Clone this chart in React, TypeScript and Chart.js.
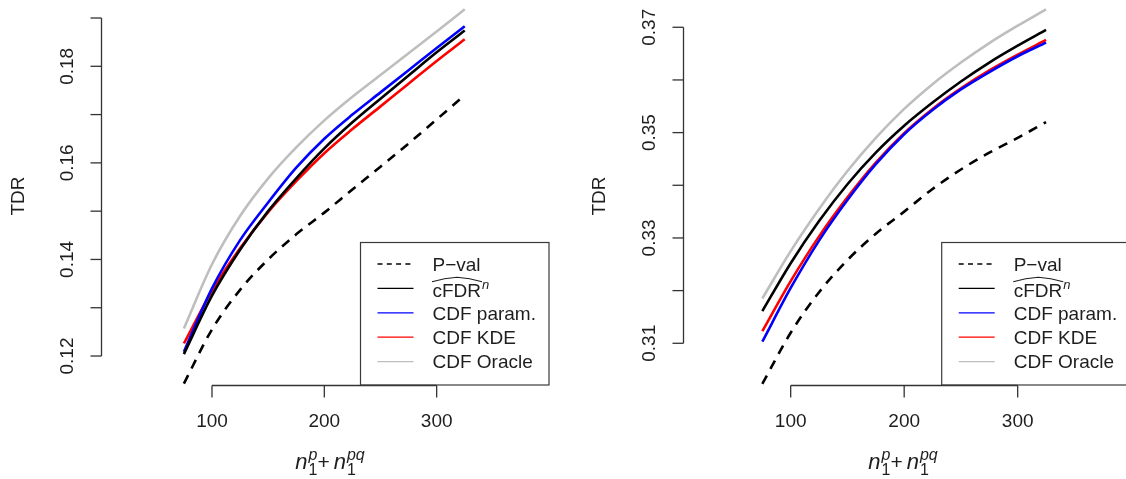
import React, { useEffect, useRef } from "react";
import { Chart, registerables } from "chart.js";
Chart.register(...registerables);

// ---------- data ----------
const xValues = [75, 100, 125, 150, 175, 200, 225, 250, 275, 300, 325];

const leftPval = [0.1143, 0.1255, 0.1337, 0.14, 0.1452, 0.1497, 0.1545, 0.1592, 0.164, 0.169, 0.174];
const leftCfdr = [0.1204, 0.1325, 0.142, 0.15, 0.1568, 0.163, 0.1684, 0.1733, 0.1781, 0.1829, 0.1874];
const leftParam = [0.1209, 0.134, 0.144, 0.1518, 0.159, 0.165, 0.17, 0.1746, 0.1792, 0.1838, 0.1883];
const leftKde = [0.1226, 0.1335, 0.1423, 0.1498, 0.1562, 0.162, 0.167, 0.1717, 0.1764, 0.1811, 0.1856];
const leftOracle = [0.1257, 0.139, 0.149, 0.1568, 0.1632, 0.1688, 0.1737, 0.1782, 0.1827, 0.1872, 0.1918];

const rightPval = [0.3023, 0.312, 0.3197, 0.3258, 0.3308, 0.335, 0.3393, 0.343, 0.3462, 0.349, 0.352];
const rightCfdr = [0.3161, 0.3252, 0.3332, 0.3402, 0.3462, 0.3513, 0.3557, 0.3597, 0.3633, 0.3665, 0.3695];
const rightParam = [0.3103, 0.3205, 0.3295, 0.3372, 0.344, 0.3497, 0.3543, 0.3582, 0.3615, 0.3645, 0.3671];
const rightKde = [0.3123, 0.3218, 0.3303, 0.3377, 0.3443, 0.3499, 0.3545, 0.3584, 0.3618, 0.3648, 0.3676];
const rightOracle = [0.3185, 0.3275, 0.3355, 0.3427, 0.349, 0.3545, 0.3592, 0.3633, 0.367, 0.3703, 0.3734];

const leftYTicks = [0.12, 0.13, 0.14, 0.15, 0.16, 0.17, 0.18, 0.19];
const leftYLabels = ["0.12", "", "0.14", "", "0.16", "", "0.18", ""];
const rightYTicks = [0.31, 0.32, 0.33, 0.34, 0.35, 0.36, 0.37];
const rightYLabels = ["0.31", "", "0.33", "", "0.35", "", "0.37"];
const xTicks = [100, 200, 300];
const xTickLabels = ["100", "200", "300"];

const legendLabels = ["P\u2212val", "cFDR", "CDF param.", "CDF KDE", "CDF Oracle"];
const yTitle = "TDR";

// ---------- styles ----------
const FONT = '"Liberation Sans", Arial, Helvetica, sans-serif';
const TEXT = "#1e1e1e";
const AXIS = "#333333";
const COLORS = { pval: "#000000", cfdr: "#000000", param: "#0000ff", kde: "#ff0000", oracle: "#bebebe" };
const legendColors = [COLORS.pval, COLORS.cfdr, COLORS.param, COLORS.kde, COLORS.oracle];

type Panel = {
  left: number;
  padL: number;
  padR: number;
  xMin: number;
  xMax: number;
  yMin: number;
  yMax: number;
  yTicks: number[];
  yLabels: string[];
  legendLeft: number;
  titleX: number;
  tdrX: number;
  series: number[][];
};

const panels: Panel[] = [
  {
    left: 0, padL: 101, padR: 33, xMin: 1.2, xMax: 400, yMin: 0.114, yMax: 0.19228,
    yTicks: leftYTicks, yLabels: leftYLabels, legendLeft: 360.5, titleX: 330, tdrX: 19,
    series: [leftPval, leftCfdr, leftParam, leftKde, leftOracle],
  },
  {
    left: 582, padL: 100.7, padR: 34.3, xMin: 4.85, xMax: 398.7, yMin: 0.30208, yMax: 0.37385,
    yTicks: rightYTicks, yLabels: rightYLabels, legendLeft: 359.7, titleX: 321, tdrX: 18,
    series: [rightPval, rightCfdr, rightParam, rightKde, rightOracle],
  },
];

function pts(ys: number[]) {
  return xValues.map((x, i) => ({ x, y: ys[i] }));
}

function drawXTitle(ctx: CanvasRenderingContext2D, cx: number, base: number) {
  const big = `italic 22px ${FONT}`;
  const plus = `21px ${FONT}`;
  const smallI = `italic 16px ${FONT}`;
  const small = `16px ${FONT}`;
  ctx.font = big;
  const wn = ctx.measureText("n").width;
  ctx.font = plus;
  const wp = ctx.measureText("+").width;
  ctx.font = smallI;
  const wsp1 = ctx.measureText("p").width;
  const wsp2 = ctx.measureText("pq").width;
  ctx.font = small;
  const w1 = ctx.measureText("1").width;
  const s1 = Math.max(wsp1, w1);
  const s2 = Math.max(wsp2, w1);
  const total = wn + 1 + s1 + 0 + wp + 4 + wn + 1 + s2;
  let x = cx - total / 2;
  ctx.textAlign = "left";
  ctx.textBaseline = "alphabetic";
  ctx.fillStyle = TEXT;
  ctx.font = big;
  ctx.fillText("n", x, base);
  x += wn + 1;
  ctx.font = smallI;
  ctx.fillText("p", x, base - 9);
  ctx.font = small;
  ctx.fillText("1", x, base + 6);
  x += s1;
  ctx.font = plus;
  ctx.fillText("+", x, base);
  x += wp + 4;
  ctx.font = big;
  ctx.fillText("n", x, base);
  x += wn + 1;
  ctx.font = smallI;
  ctx.fillText("pq", x, base - 9);
  ctx.font = small;
  ctx.fillText("1", x, base + 6);
}

function makeAxesPlugin(p: Panel) {
  return {
    id: "rAxes",
    afterDraw(chart: any) {
      const ctx: CanvasRenderingContext2D = chart.ctx;
      const area = chart.chartArea;
      const xs = chart.scales.x;
      const ys = chart.scales.y;
      ctx.save();
      ctx.strokeStyle = AXIS;
      ctx.lineWidth = 1.3;
      ctx.lineCap = "butt";
      ctx.setLineDash([]);

      // y axis
      const ax = Math.round(area.left) + 0.5;
      ctx.beginPath();
      ctx.moveTo(ax, ys.getPixelForValue(p.yTicks[0]));
      ctx.lineTo(ax, ys.getPixelForValue(p.yTicks[p.yTicks.length - 1]));
      ctx.stroke();
      p.yTicks.forEach((t, i) => {
        const y = ys.getPixelForValue(t);
        ctx.beginPath();
        ctx.moveTo(ax - 11, y);
        ctx.lineTo(ax, y);
        ctx.stroke();
        const lab = p.yLabels[i];
        if (lab) {
          ctx.save();
          ctx.translate(ax - 34, y);
          ctx.rotate(-Math.PI / 2);
          ctx.font = `19px ${FONT}`;
          ctx.fillStyle = TEXT;
          ctx.textAlign = "center";
          ctx.textBaseline = "middle";
          ctx.fillText(lab, 0, 0);
          ctx.restore();
        }
      });

      // x axis
      const ay = Math.round(area.bottom) + 0.5;
      ctx.beginPath();
      ctx.moveTo(xs.getPixelForValue(xTicks[0]), ay);
      ctx.lineTo(xs.getPixelForValue(xTicks[xTicks.length - 1]), ay);
      ctx.stroke();
      xTicks.forEach((t, i) => {
        const x = xs.getPixelForValue(t);
        ctx.beginPath();
        ctx.moveTo(x, ay);
        ctx.lineTo(x, ay + 12);
        ctx.stroke();
        ctx.font = `19px ${FONT}`;
        ctx.fillStyle = TEXT;
        ctx.textAlign = "center";
        ctx.textBaseline = "middle";
        ctx.fillText(xTickLabels[i], x, 422);
      });

      // y title
      ctx.save();
      ctx.translate(p.tdrX, (area.top + area.bottom) / 2);
      ctx.rotate(-Math.PI / 2);
      ctx.font = `19px ${FONT}`;
      ctx.fillStyle = TEXT;
      ctx.textAlign = "center";
      ctx.textBaseline = "middle";
      ctx.fillText(yTitle, 0, 0);
      ctx.restore();

      // x title
      drawXTitle(ctx, p.titleX, 469);

      // legend
      const lx = p.legendLeft;
      const top = 242.5;
      ctx.strokeStyle = "#3a3a3a";
      ctx.lineWidth = 1.2;
      ctx.strokeRect(lx, top, area.right - lx, area.bottom - top);
      legendLabels.forEach((lab, i) => {
        const ry = 264 + i * 24.4;
        ctx.strokeStyle = legendColors[i];
        ctx.lineWidth = 1.3;
        ctx.setLineDash(i === 0 ? [5, 4.3] : []);
        ctx.beginPath();
        ctx.moveTo(lx + 17, ry);
        ctx.lineTo(lx + 53, ry);
        ctx.stroke();
        ctx.setLineDash([]);
        ctx.fillStyle = TEXT;
        ctx.font = `19px ${FONT}`;
        ctx.textAlign = "left";
        ctx.textBaseline = "alphabetic";
        const tx = lx + 72;
        if (i === 1) {
          const base = ry + 8.3;
          ctx.fillText(lab, tx, base);
          const w = ctx.measureText(lab).width;
          // wide hat
          ctx.strokeStyle = TEXT;
          ctx.lineWidth = 1.1;
          ctx.beginPath();
          const x0 = tx - 0.5;
          const x1 = tx + w + 1;
          const xm = (x0 + x1) / 2;
          const yEnd = base - 15;
          const yPeak = base - 19.5;
          ctx.moveTo(x0, yEnd);
          ctx.quadraticCurveTo(x0 + (xm - x0) * 0.5, yPeak + 0.6, xm, yPeak);
          ctx.quadraticCurveTo(xm + (x1 - xm) * 0.5, yPeak + 0.6, x1, yEnd);
          ctx.stroke();
          ctx.font = `italic 13px ${FONT}`;
          ctx.fillText("n", tx + w + 1, base - 8);
        } else {
          ctx.fillText(lab, tx, ry + 6.8);
        }
      });
      ctx.restore();
    },
  };
}

function PanelChart({ p }: { p: Panel }) {
  const ref = useRef<HTMLCanvasElement | null>(null);
  useEffect(() => {
    if (!ref.current) return;
    const [pval, cfdr, param, kde, oracle] = p.series;
    const line = (label: string, data: number[], color: string, dash: number[] = []) => ({
      label,
      data: pts(data),
      borderColor: color,
      backgroundColor: color,
      borderWidth: 2.6,
      borderDash: dash,
      pointRadius: 0,
      fill: false,
      cubicInterpolationMode: "monotone" as const,
    });
    const chart = new Chart(ref.current, {
      type: "line",
      data: {
        datasets: [
          line(legendLabels[1], cfdr, COLORS.cfdr),
          line(legendLabels[2], param, COLORS.param),
          line(legendLabels[3], kde, COLORS.kde),
          line(legendLabels[0], pval, COLORS.pval, [9.5, 7.5]),
          line(legendLabels[4], oracle, COLORS.oracle),
        ],
      },
      options: {
        responsive: false,
        animation: false,
        devicePixelRatio: 1,
        events: [],
        layout: { padding: { left: p.padL, right: p.padR, top: 7, bottom: 94 } },
        plugins: { legend: { display: false }, tooltip: { enabled: false }, title: { display: false } },
        scales: {
          x: { type: "linear", min: p.xMin, max: p.xMax, display: false },
          y: { type: "linear", min: p.yMin, max: p.yMax, display: false },
        },
      },
      plugins: [makeAxesPlugin(p)],
    });
    return () => chart.destroy();
  }, [p]);
  return (
    <canvas
      ref={ref}
      width={582}
      height={479}
      style={{ position: "absolute", left: p.left, top: 0, width: 582, height: 479 }}
    />
  );
}

export default function App() {
  return (
    <div
      style={{
        position: "fixed",
        left: 0,
        top: 0,
        width: 1126,
        height: 479,
        overflow: "hidden",
        background: "#ffffff",
      }}
    >
      {panels.map((p, i) => (
        <PanelChart key={i} p={p} />
      ))}
    </div>
  );
}
